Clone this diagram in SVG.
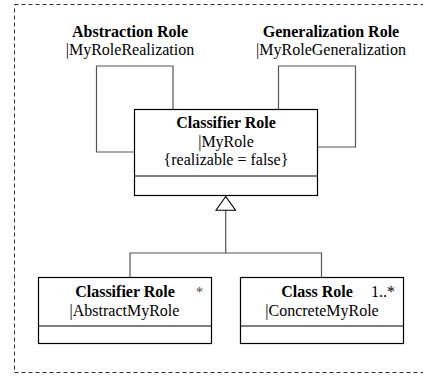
<svg xmlns="http://www.w3.org/2000/svg" width="423" height="378" viewBox="0 0 423 378">
  <style>
    .frame { fill: none; stroke: #333; stroke-width: 1; stroke-dasharray: 4 3; }
    .box { fill: #fff; stroke: #000; stroke-width: 1.2; }
    .div { stroke: #000; stroke-width: 1.2; }
    .conn { fill: none; stroke: #555; stroke-width: 1.2; }
    .tri { fill: #fff; stroke: #000; stroke-width: 1.1; }
    text { font-family: "Liberation Serif", "Times New Roman", serif; font-size: 16px; fill: #000; }
    .b { font-weight: bold; }
    .c { text-anchor: middle; }
  </style>

  <!-- surrounding package frame -->
  <rect class="frame" x="14.5" y="4.5" width="420" height="368"/>

  <!-- connectors -->
  <g id="connectors">
    <!-- self association: abstraction -->
    <polyline class="conn" points="173,109 173,66 96.5,66 96.5,152 134.5,152"/>
    <!-- self association: generalization -->
    <polyline class="conn" points="278.5,109 278.5,66 355.5,66 355.5,147 317.5,147"/>
    <!-- generalization tree -->
    <polyline class="conn" points="225.7,210 225.7,253"/>
    <polyline class="conn" points="130,277 130,253 321.5,253 321.5,277"/>
    <polygon class="tri" points="225.7,196.5 216,210.3 235.5,210.3"/>
  </g>

  <!-- association role labels -->
  <g id="abstraction-label">
    <text class="b c" x="130" y="37">Abstraction Role</text>
    <text class="c" x="130" y="55">|MyRoleRealization</text>
  </g>
  <g id="generalization-label">
    <text class="b c" x="331" y="37">Generalization Role</text>
    <text class="c" x="331" y="55">|MyRoleGeneralization</text>
  </g>

  <!-- central classifier role -->
  <g id="classifier-myrole">
    <rect class="box" x="134.5" y="109.5" width="183" height="86"/>
    <line class="div" x1="134.5" y1="176" x2="317.5" y2="176"/>
    <text class="b c" x="226" y="128">Classifier Role</text>
    <text class="c" x="226" y="147">|MyRole</text>
    <text class="c" x="226" y="165">{realizable = false}</text>
  </g>

  <!-- abstract child role -->
  <g id="classifier-abstract">
    <rect class="box" x="38.5" y="277.5" width="173" height="66"/>
    <line class="div" x1="38.5" y1="326" x2="211.5" y2="326"/>
    <text class="b c" x="125" y="297">Classifier Role</text>
    <text x="196" y="297" style="font-size:14px; fill:#444">*</text>
    <text class="c" x="124.5" y="316">|AbstractMyRole</text>
  </g>

  <!-- concrete child role -->
  <g id="class-concrete">
    <rect class="box" x="240.5" y="277.5" width="163" height="66"/>
    <line class="div" x1="240.5" y1="326" x2="403.5" y2="326"/>
    <text class="b c" x="317" y="297">Class Role</text>
    <text x="371" y="297">1..*</text>
    <text class="c" x="322" y="316">|ConcreteMyRole</text>
  </g>
</svg>
